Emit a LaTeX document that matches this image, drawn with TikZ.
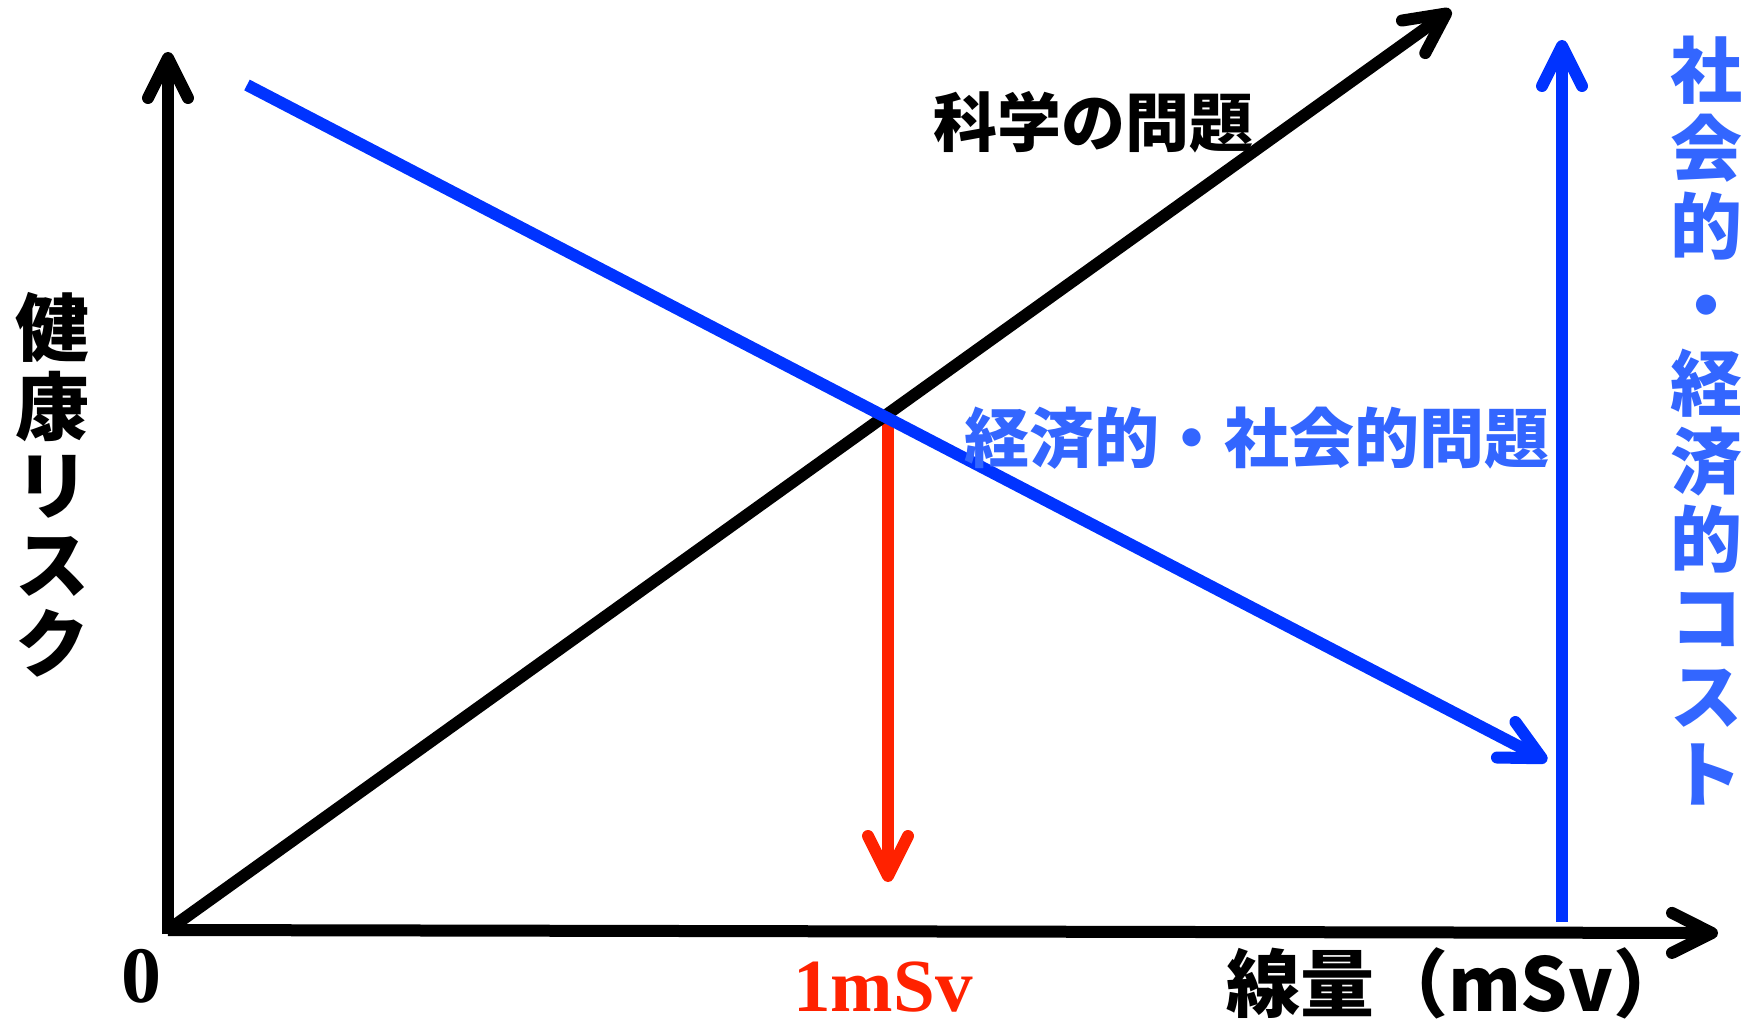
\documentclass[tikz,border=0pt]{standalone}
\usepackage{fontspec}
\usetikzlibrary{arrows.meta}
\newfontfamily\cjk{Noto Sans CJK JP}
\newfontfamily\tms{Liberation Serif}
\definecolor{lineblue}{HTML}{0033FF}
\definecolor{textblue}{HTML}{3366FF}
\definecolor{linered}{HTML}{FF2200}
\tikzset{
  ln/.style={line width=12pt},
  barb/.style={-{Straight Barb[length=40pt,width=40pt,round]}},
  lbl/.style={inner sep=0pt, outer sep=0pt},
}
\begin{document}
\begin{tikzpicture}[x=1pt,y=-1pt]
\path[use as bounding box] (0,0) rectangle (1753,1025);
% coordinates
\coordinate (O) at (168,930);
\coordinate (Ybot) at (168,934);
\coordinate (Ytop) at (168,52);
\coordinate (Xend) at (1718,933);
\coordinate (Kend) at (1451,10);
\coordinate (Bs) at (247,85);
\coordinate (Be) at (1547,761);
\coordinate (Rtop) at (888,416);
\coordinate (Rend) at (888,882);
\coordinate (Vb) at (1562,922);
\coordinate (Vt) at (1562,40);
% red arrow
\draw[ln, linered, barb] (Rtop) -- (Rend);
% axes
\draw[ln, barb] (Ybot) -- (Ytop);
\draw[ln, barb] (O) -- (Xend);
% black diagonal
\draw[ln, barb] (O) -- (Kend);
% blue diagonal
\draw[ln, lineblue, barb] (Bs) -- (Be);
% blue vertical
\draw[ln, lineblue, barb] (Vb) -- (Vt);
% texts
\node[lbl, font=\cjk\bfseries\fontsize{64}{64}\selectfont] (kagaku) at (1093,122) {科学の問題};
\node[lbl, font=\cjk\bfseries\fontsize{65}{65}\selectfont, text=textblue] (keizai) at (1257,438) {経済的・社会的問題};
\node[lbl, anchor=north, align=center, font=\cjk\bfseries\fontsize{72}{78.2}\selectfont, text=textblue] (cost) at (1706,36) {社\\会\\的\\・\\経\\済\\的\\コ\\ス\\ト};
\node[lbl, anchor=north, align=center, font=\cjk\bfseries\fontsize{74}{79}\selectfont] (risk) at (53,292) {健\\康\\リ\\ス\\ク};
\node[lbl, text depth=0pt, anchor=base, font=\tms\bfseries\fontsize{80}{80}\selectfont] (zero) at (141,1002) {0};
\node[lbl, text depth=0pt, anchor=base, font=\tms\bfseries\fontsize{75}{75}\selectfont, text=linered] (one) at (883,1011) {1mSv};
\node[lbl, anchor=west, font=\cjk\bfseries\fontsize{74}{74}\selectfont] (dose) at (1226,983) {線量（mSv）};
\end{tikzpicture}
\end{document}
